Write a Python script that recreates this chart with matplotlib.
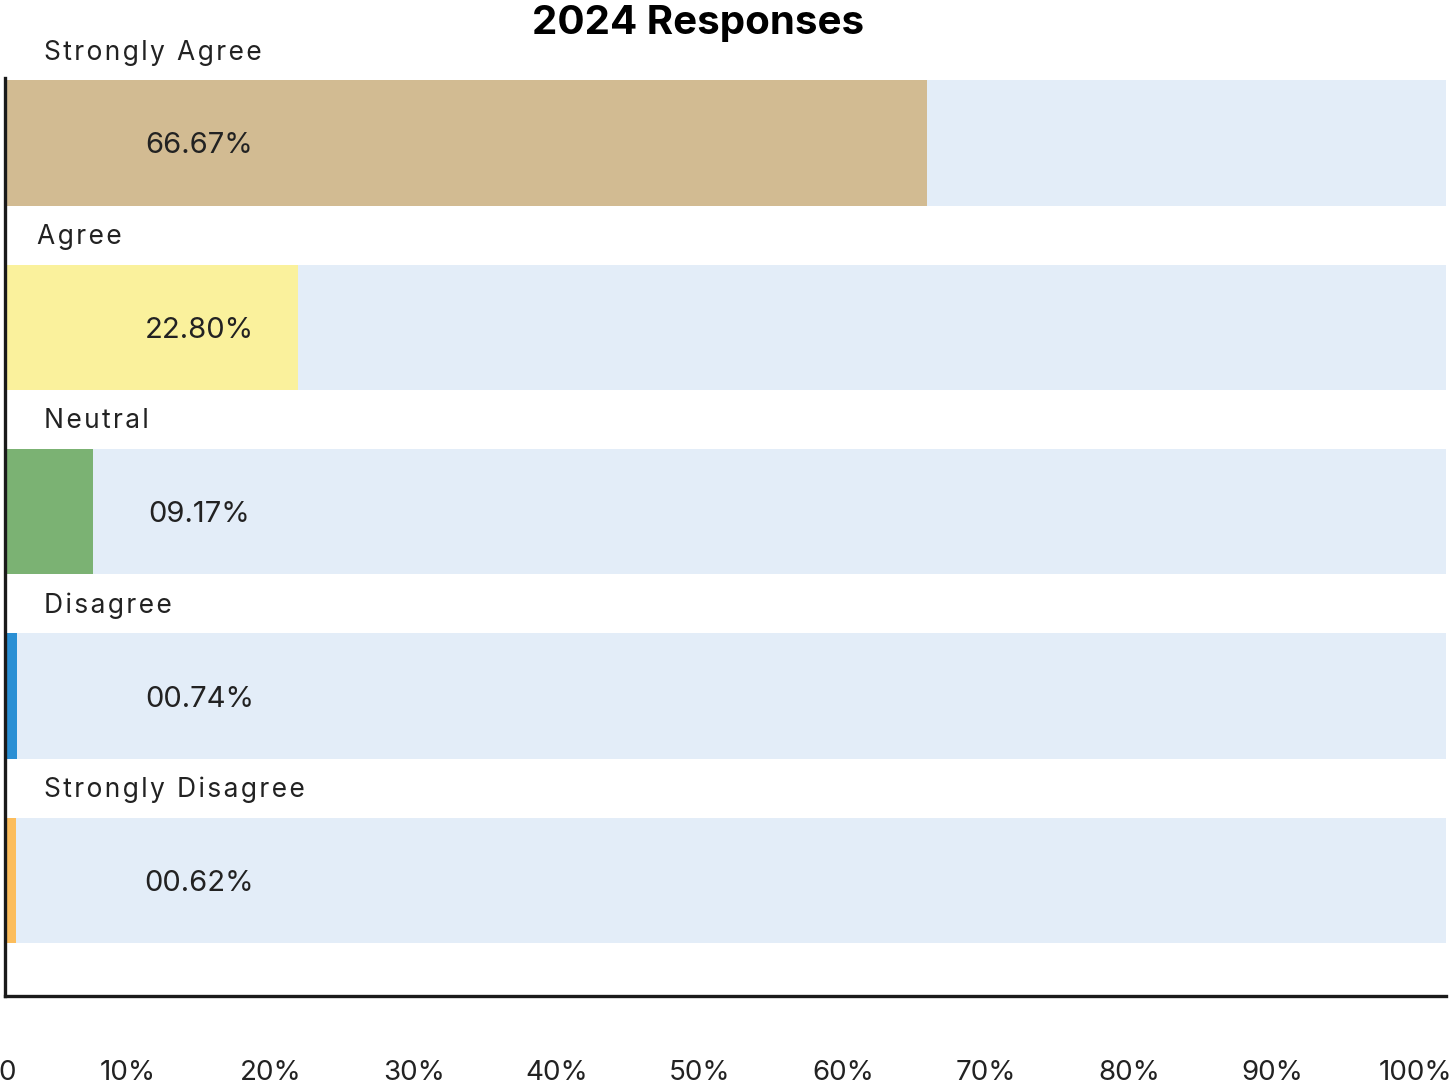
import matplotlib
matplotlib.use("Agg")
import matplotlib.pyplot as plt
import matplotlib.transforms as mtransforms

# responses, top to bottom
categories = ["Strongly Agree", "Agree", "Neutral", "Disagree", "Strongly Disagree"]
pct_labels = ["66.67%", "22.80%", "09.17%", "00.74%", "00.62%"]
# bar lengths as drawn in the picture (percent of axis)
bar_values = [64.0, 20.3, 6.1, 0.8, 0.75]
bar_colors = ["#d2bb92", "#faf19c", "#7bb273", "#2a8fd4", "#fcbd5c"]
x_ticks = [0, 10, 20, 30, 40, 50, 60, 70, 80, 90, 100]
x_tick_labels = ["0", "10%", "20%", "30%", "40%", "50%", "60%", "70%", "80%", "90%", "100%"]

W, H = 1453, 1086
fig = plt.figure(figsize=(W / 100, H / 100), dpi=100)
# axes placed in pixel terms: left spine at x=5, bottom at y=996, top at y=78
ax = fig.add_axes([5 / W, (H - 996) / H, (1446 - 5) / W, (996 - 78) / H])

y = list(range(len(categories)))
bar_h = 0.68
ax.barh(y, [100] * len(y), height=bar_h, color="#e3edf8", zorder=1)
ax.barh(y, bar_values, height=bar_h, color=bar_colors, zorder=2)

ax.set_xlim(0, 100)
ax.set_ylim(4.626, -0.352)


def spaced(s):
    # crude letter spacing with hair spaces
    return "\u200a".join(s)


trans = mtransforms.blended_transform_factory(ax.transAxes, ax.transData)
for i, (cat, lab) in enumerate(zip(categories, pct_labels)):
    ax.text(0.135, i, lab, transform=trans, ha="center", va="center_baseline",
            fontsize=21, color="#222222", family="Inter", zorder=3)
    lx = 0.0225 if cat == "Agree" else 0.027
    ax.text(lx, i - 0.49, spaced(cat), transform=trans, ha="left", va="center",
            fontsize=19, color="#222222", family=["Inter", "DejaVu Sans"],
            clip_on=False, zorder=3)

for side in ["top", "right"]:
    ax.spines[side].set_visible(False)
for side in ["left", "bottom"]:
    ax.spines[side].set_linewidth(2.4)
    ax.spines[side].set_color("#1a1a1a")

ax.set_yticks([])
ax.set_xticks(x_ticks)
ax.set_xticklabels(x_tick_labels, fontsize=20, color="#222222", family="Inter")
ax.tick_params(axis="x", length=0, pad=46)
# shift tick labels slightly left like the original renderer
for v, t in zip(x_ticks, ax.get_xticklabels()):
    dx = 2 if v == 0 else -(20 + 0.11 * v)
    t.set_transform(t.get_transform() + mtransforms.ScaledTranslation(dx / 100, 0, fig.dpi_scale_trans))

fig.text(698 / W, 1 - 23 / H, "2024 Responses", ha="center", va="center",
         fontsize=29, fontweight="bold", family="Inter", color="#000000")

fig.savefig("out.png", dpi=100)
